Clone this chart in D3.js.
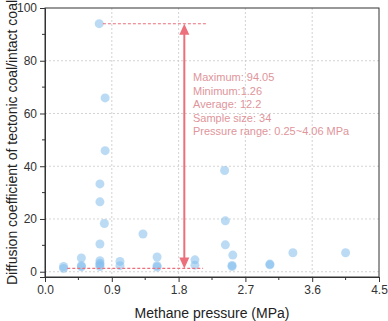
<!DOCTYPE html>
<html><head><meta charset="utf-8">
<script src="https://cdn.jsdelivr.net/npm/d3@7"></script>
<style>body{margin:0;background:#fff;} text{font-family:"Liberation Sans",Arial,sans-serif;}</style>
</head><body>
<svg id="c" width="388" height="321"></svg>
<script>
// Data
const pressure = [0.25,0.25,0.49,0.49,0.49,0.73,0.81,0.81,0.74,0.74,0.80,0.74,0.74,0.74,0.74,0.74,1.01,1.01,1.32,1.51,1.51,1.51,2.02,2.02,2.42,2.43,2.43,2.53,2.52,2.52,3.03,3.03,3.34,4.05];
const ratio    = [2.0,1.26,5.2,2.3,1.9,94.05,65.9,45.9,33.3,26.5,18.3,10.5,4.2,2.6,3.2,2.0,3.9,2.3,14.3,5.6,2.3,1.8,4.5,2.5,38.4,19.3,10.2,6.3,2.4,2.0,2.9,2.6,7.2,7.2];
const xTicks = [0.0,0.9,1.8,2.7,3.6,4.5];
const yTicks = [0,20,40,60,80,100];
const statLines = ["Maximum: 94.05","Minimum:1.26","Average: 12.2","Sample size: 34","Pressure range: 0.25~4.06 MPa"];
const maxVal = 94.05, minVal = 1.26;

const svg = d3.select("#c");
const L=45,R=379,T=8,B=277;
const x = d3.scaleLinear().domain([0,4.5]).range([L,R]);
const y = d3.scaleLinear().domain([-2,100]).range([B,T]);

// grid
const g = svg.append("g");
g.selectAll(".gx").data(xTicks.filter(d=>d>0&&d<4.5)).enter().append("line")
 .attr("x1",d=>x(d)).attr("x2",d=>x(d)).attr("y1",T).attr("y2",B)
 .attr("stroke","#c8c8c8").attr("stroke-dasharray","2,2").attr("stroke-width",0.8);
g.selectAll(".gy").data(yTicks.filter(d=>d<100)).enter().append("line")
 .attr("y1",d=>y(d)).attr("y2",d=>y(d)).attr("x1",L).attr("x2",R)
 .attr("stroke","#c8c8c8").attr("stroke-dasharray","2,2").attr("stroke-width",0.8);

// frame
svg.append("rect").attr("x",L).attr("y",T).attr("width",R-L).attr("height",B-T)
 .attr("fill","none").attr("stroke","#333").attr("stroke-width",1);

// axes
const xAxis = d3.axisBottom(x).tickValues(xTicks).tickFormat(d3.format(".1f")).tickSize(5).tickPadding(3);
const gx = svg.append("g").attr("transform",`translate(0,${B})`).call(xAxis);
const xMinor = d3.range(0.45,4.5,0.9);
gx.selectAll(".mn").data(xMinor).enter().append("line").attr("x1",d=>x(d)).attr("x2",d=>x(d)).attr("y1",0).attr("y2",3).attr("stroke","#333");
const yAxis = d3.axisLeft(y).tickValues(yTicks).tickSize(5).tickPadding(3);
const gy = svg.append("g").attr("transform",`translate(${L},0)`).call(yAxis);
gy.selectAll(".mn").data([10,30,50,70,90]).enter().append("line").attr("y1",d=>y(d)).attr("y2",d=>y(d)).attr("x1",0).attr("x2",-3).attr("stroke","#333");
[gx,gy].forEach(a=>{a.select(".domain").attr("stroke","#333");a.selectAll(".tick line").attr("stroke","#333");
 a.selectAll(".tick text").attr("fill","#333").style("font-size","12px").style("font-family","Liberation Sans, Arial, sans-serif");});

// points
svg.append("g").selectAll("circle").data(pressure.map((p,i)=>[p,ratio[i]])).enter().append("circle")
 .attr("cx",d=>x(d[0])).attr("cy",d=>y(d[1])).attr("r",4.5)
 .attr("fill","#84bdec").attr("fill-opacity",0.55);

// annotation
const red="#ec6f7c";
svg.append("line").attr("x1",x(0.78)).attr("x2",x(2.18)).attr("y1",y(maxVal)).attr("y2",y(maxVal))
 .attr("stroke",red).attr("stroke-dasharray","3,2").attr("stroke-width",1.1);
svg.append("line").attr("x1",x(0.3)).attr("x2",x(2.13)).attr("y1",y(minVal)).attr("y2",y(minVal))
 .attr("stroke",red).attr("stroke-dasharray","3,2").attr("stroke-width",1.1);
const ax = x(1.877);
svg.append("line").attr("x1",ax).attr("x2",ax).attr("y1",y(maxVal)+9).attr("y2",y(minVal)-9)
 .attr("stroke",red).attr("stroke-width",2);
svg.append("path").attr("d",`M${ax},${y(maxVal)} L${ax-5},${y(maxVal)+11} L${ax+5},${y(maxVal)+11}Z`).attr("fill",red);
svg.append("path").attr("d",`M${ax},${y(minVal)} L${ax-5},${y(minVal)-11} L${ax+5},${y(minVal)-11}Z`).attr("fill",red);
svg.append("g").selectAll("text").data(statLines).enter().append("text")
 .attr("x",193).attr("y",(d,i)=>81+i*13.5).text(d=>d)
 .attr("fill","#e0959b").style("font-size","11px");

// axis titles
svg.append("text").attr("x",(L+R)/2).attr("y",318).attr("text-anchor","middle")
 .attr("fill","#222").style("font-size","14px").text("Methane pressure (MPa)");
svg.append("text").attr("transform",`translate(17,${(T+B)/2}) rotate(-90)`).attr("text-anchor","middle")
 .attr("fill","#222").style("font-size","14px").text("Diffusion coefficient of tectonic coal/intact coal");
</script>
</body></html>
